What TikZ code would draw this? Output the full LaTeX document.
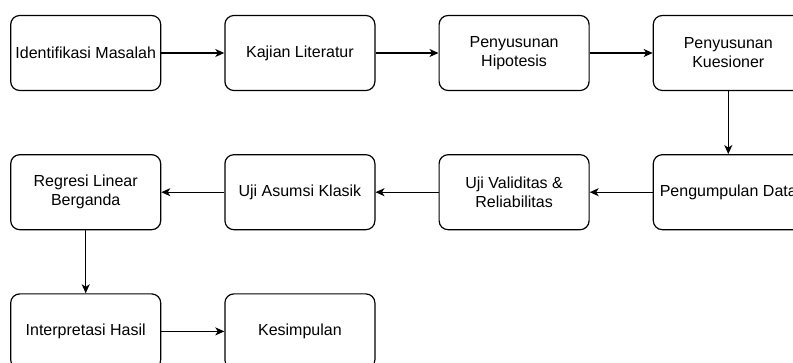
\documentclass[tikz,border=0pt]{standalone}
\usepackage{fontspec}
\setmainfont{Liberation Sans}
\usetikzlibrary{positioning,arrows.meta}
\begin{document}
\begin{tikzpicture}[x=1pt,y=1pt,>={Stealth[length=9pt,width=8pt,inset=2.5pt]}, line join=round,
    box/.style={draw,rounded corners=9pt,line width=1.2pt,minimum width=150pt,minimum height=75pt,
        align=center,inner sep=0pt,font=\fontsize{16}{19}\selectfont},
    link/.style={->,line width=1.2pt}]
    \def\gap{63pt}
    \useasboundingbox (0,0) rectangle (793,-363);
    % row 1
    \node[box] (identifikasi) at (85.7,-53) {Identifikasi Masalah};
    \node[box,right=\gap of identifikasi] (kajian) {Kajian Literatur};
    \node[box,right=\gap of kajian] (hipotesis) {Penyusunan\\Hipotesis};
    \node[box,right=\gap of hipotesis] (kuesioner) {Penyusunan\\Kuesioner};
    % row 2
    \node[box,below=\gap of kuesioner] (pengumpulan) {Pengumpulan Data};
    \node[box,below=\gap of hipotesis] (validitas) {Uji Validitas \&\\Reliabilitas};
    \node[box,below=\gap of kajian] (asumsi) {Uji Asumsi Klasik};
    \node[box,below=\gap of identifikasi] (regresi) {Regresi Linear\\Berganda};
    % row 3
    \node[box,below=\gap of regresi] (interpretasi) {Interpretasi Hasil};
    \node[box,right=\gap of interpretasi] (kesimpulan) {Kesimpulan};
    \draw[link] (identifikasi) -- (kajian);
    \draw[link] (kajian) -- (hipotesis);
    \draw[link] (hipotesis) -- (kuesioner);
    \draw[link] (kuesioner) -- (pengumpulan);
    \draw[link] (pengumpulan) -- (validitas);
    \draw[link] (validitas) -- (asumsi);
    \draw[link] (asumsi) -- (regresi);
    \draw[link] (regresi) -- (interpretasi);
    \draw[link] (interpretasi) -- (kesimpulan);
\end{tikzpicture}
\end{document}
